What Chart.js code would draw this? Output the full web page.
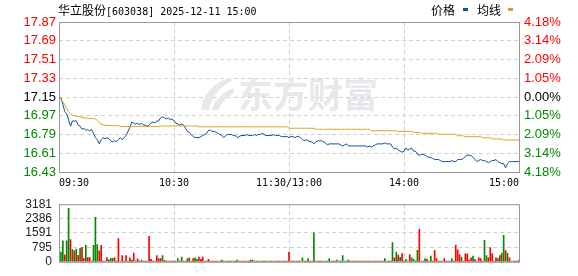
<!DOCTYPE html>
<html>
<head>
<meta charset="utf-8">
<script src="https://cdn.jsdelivr.net/npm/chart.js@4/dist/chart.umd.min.js"></script>
<style>
  html, body { margin: 0; padding: 0; background: #fff; }
  #wrap { position: relative; width: 578px; height: 276px; overflow: hidden; background: #fff; }
  canvas { position: absolute; left: 0; }
  #title { position: absolute; left: 58px; top: 1px; line-height: 14px; white-space: nowrap; color: #000; }
  #title .cn { font: 12px 'Noto Sans CJK SC'; }
  #title .en { font: 10px 'DejaVu Sans Mono'; }
  #legend { position: absolute; top: 1px; left: 0; line-height: 14px; font: 12px 'Noto Sans CJK SC'; color: #000; }
  #legend span { position: absolute; white-space: nowrap; }
  #legend i { position: absolute; display: block; width: 5px; height: 3px; }
</style>
</head>
<body>
<div id="wrap">
  <canvas id="priceCanvas" width="578" height="190" style="top:0;width:578px;height:190px"></canvas>
  <canvas id="volCanvas" width="578" height="86" style="top:190px;width:578px;height:86px"></canvas>
  <div id="title"><span class="cn">华立股份</span><span class="en">[603038] 2025-12-11 15:00</span></div>
  <div id="legend">
    <span style="left:431px">价格</span><i style="left:463px;top:7px;background:#0d56b0"></i>
    <span style="left:477px">均线</span><i style="left:508px;top:7px;background:#dca11e"></i>
  </div>
</div>
<script>
// ── axis ticks & labels ─────────────────────────────
const timeTicks  = [0, 60, 120, 180, 240];
const timeLabels = ['09:30', '10:30', '11:30/13:00', '14:00', '15:00'];
const priceTicks = [16.43, 16.61, 16.79, 16.97, 17.15, 17.33, 17.51, 17.69, 17.87];
const pctLabels  = ['4.18%', '3.14%', '2.09%', '1.05%', '0.00%', '1.05%', '2.09%', '3.14%', '4.18%'];
const volTicks   = [0, 795, 1591, 2386, 3181];
const prevClose  = 17.15;

// ── minute data, 09:30 .. 15:00 (241 points) ────────
const price = [
  17.16, 17.14, 17.08, 17.01, 16.99, 16.93, 16.87, 16.92, 16.92, 16.92,
  16.88, 16.87, 16.84, 16.85, 16.83, 16.84, 16.82, 16.84, 16.80, 16.76,
  16.74, 16.70, 16.74, 16.76, 16.75, 16.76, 16.75, 16.73, 16.72, 16.73,
  16.72, 16.74, 16.76, 16.74, 16.76, 16.78, 16.82, 16.86, 16.91, 16.90,
  16.89, 16.90, 16.88, 16.90, 16.88, 16.88, 16.87, 16.88, 16.90, 16.91,
  16.90, 16.92, 16.92, 16.95, 16.96, 16.95, 16.94, 16.95, 16.93, 16.94,
  16.92, 16.90, 16.89, 16.88, 16.89, 16.88, 16.85, 16.82, 16.81, 16.79,
  16.77, 16.76, 16.76, 16.76, 16.77, 16.78, 16.79, 16.80, 16.83, 16.83,
  16.82, 16.82, 16.81, 16.80, 16.79, 16.78, 16.76, 16.78, 16.79, 16.79,
  16.79, 16.78, 16.78, 16.76, 16.77, 16.78, 16.78, 16.78, 16.79, 16.78,
  16.78, 16.78, 16.79, 16.78, 16.79, 16.79, 16.80, 16.79, 16.78, 16.78,
  16.78, 16.78, 16.79, 16.78, 16.78, 16.78, 16.77, 16.77, 16.77, 16.77,
  16.76, 16.77, 16.77, 16.76, 16.77, 16.77, 16.76, 16.74, 16.73, 16.74,
  16.73, 16.72, 16.72, 16.70, 16.72, 16.73, 16.73, 16.73, 16.72, 16.71,
  16.69, 16.70, 16.70, 16.70, 16.70, 16.70, 16.70, 16.69, 16.68, 16.69,
  16.70, 16.68, 16.68, 16.68, 16.68, 16.68, 16.68, 16.68, 16.68, 16.68,
  16.68, 16.67, 16.68, 16.67, 16.68, 16.69, 16.70, 16.70, 16.70, 16.70,
  16.71, 16.70, 16.70, 16.70, 16.67, 16.65, 16.66, 16.64, 16.63, 16.62,
  16.63, 16.66, 16.64, 16.65, 16.66, 16.63, 16.63, 16.60, 16.59, 16.60,
  16.60, 16.59, 16.58, 16.57, 16.57, 16.56, 16.55, 16.55, 16.55, 16.54,
  16.53, 16.53, 16.53, 16.53, 16.53, 16.54, 16.53, 16.53, 16.55, 16.55,
  16.55, 16.56, 16.58, 16.59, 16.59, 16.59, 16.57, 16.55, 16.53, 16.54,
  16.55, 16.54, 16.54, 16.53, 16.52, 16.53, 16.54, 16.54, 16.55, 16.53,
  16.52, 16.51, 16.51, 16.47, 16.51, 16.53, 16.53, 16.53, 16.53, 16.53,
  16.53
];

const avgPrice = [
  17.160, 17.130, 17.105, 17.075, 17.040, 17.010, 16.985, 16.975, 16.970, 16.965,
  16.962, 16.958, 16.955, 16.951, 16.948, 16.946, 16.944, 16.943, 16.942, 16.940,
  16.925, 16.905, 16.890, 16.885, 16.880, 16.876, 16.876, 16.876, 16.876, 16.876,
  16.876, 16.876, 16.866, 16.866, 16.866, 16.866, 16.866, 16.866, 16.866, 16.866,
  16.866, 16.866, 16.866, 16.866, 16.866, 16.866, 16.866, 16.866, 16.866, 16.866,
  16.866, 16.866, 16.866, 16.872, 16.872, 16.872, 16.872, 16.872, 16.872, 16.872,
  16.872, 16.872, 16.872, 16.872, 16.872, 16.872, 16.872, 16.872, 16.872, 16.872,
  16.872, 16.872, 16.872, 16.864, 16.864, 16.864, 16.864, 16.864, 16.864, 16.864,
  16.864, 16.864, 16.864, 16.864, 16.864, 16.864, 16.864, 16.864, 16.864, 16.864,
  16.864, 16.864, 16.864, 16.864, 16.864, 16.864, 16.864, 16.864, 16.864, 16.864,
  16.864, 16.864, 16.864, 16.864, 16.864, 16.864, 16.864, 16.864, 16.864, 16.864,
  16.864, 16.864, 16.864, 16.864, 16.864, 16.864, 16.864, 16.864, 16.864, 16.864,
  16.850, 16.850, 16.850, 16.850, 16.850, 16.850, 16.850, 16.850, 16.850, 16.850,
  16.850, 16.850, 16.850, 16.850, 16.840, 16.840, 16.840, 16.840, 16.840, 16.840,
  16.840, 16.840, 16.840, 16.840, 16.840, 16.840, 16.840, 16.840, 16.840, 16.840,
  16.840, 16.840, 16.840, 16.840, 16.840, 16.840, 16.840, 16.840, 16.840, 16.840,
  16.840, 16.840, 16.840, 16.826, 16.826, 16.826, 16.826, 16.826, 16.826, 16.826,
  16.826, 16.826, 16.826, 16.826, 16.826, 16.826, 16.826, 16.820, 16.820, 16.820,
  16.820, 16.820, 16.820, 16.820, 16.820, 16.811, 16.811, 16.811, 16.811, 16.802,
  16.802, 16.802, 16.802, 16.802, 16.802, 16.802, 16.802, 16.802, 16.792, 16.792,
  16.792, 16.792, 16.792, 16.792, 16.792, 16.792, 16.792, 16.792, 16.778, 16.778,
  16.778, 16.778, 16.769, 16.769, 16.769, 16.769, 16.769, 16.769, 16.769, 16.769,
  16.769, 16.759, 16.759, 16.759, 16.759, 16.759, 16.747, 16.747, 16.747, 16.747,
  16.747, 16.747, 16.737, 16.737, 16.737, 16.737, 16.737, 16.737, 16.737, 16.737,
  16.737
];

const volume = [
  1944,  532, 1153,  389, 1153, 2950, 1223,  678,  605,  706,
   360,  750,  792,  173,  907,  230,  230,   40,  907, 2462,
   950,  605,  907,   40,   40,  230,  115,  187,  187,  230,
    40, 1280,   40,  350,   40,  350,   40,  220,  100,  480,
    40,  170,   40,   90,   40,   40,   40, 1400,  130,   40,
    40,  350,  175,  180,  345,   80,   40,   40,   40,   40,
    40,   40,  176,   40,  265,   40,   40,  176,  220,   40,
   176,  220,  130,  265,  130,  265,   40,   40,  130,   40,
    40,   40,   40,   40,   40,   90,   40,   40,   40,   40,
    40,   40,   40,   90,   40,   40,   40,   40,   40,   40,
    90,   90,   40,   40,   40,   40,   40,   40,   40,   40,
    40,   40,   40,   40,   40,   40,   40,   40,   40,   40,
   540,   40,   40,   40,   40,   40,   40,  220,   40,   40,
   176,   40,   40, 1600,   40,   40,   40,   40,   40,   40,
    40,  176,   40,   40,   40,   90,   40,   40,  350,   40,
    40,   90,   40,   40,   40,   40,   40,   40,   40,   40,
    40,   40,   40,   40,   40,   40,   40,   40,   40,   40,
   176,   40,   40,   40, 1060,  220,  530,  370,  250,  450,
    40,  130,   40,  400,  220,  130,   60,  640, 1790,   40,
    40,  176,  130,   40,  310,   40,  640,  176,   40,   40,
    40,  176,   40,   40,   40,  176,   40,  925,  660,  400,
   265,   40,  440,  440,   90,  220,  310,  130,   40,  220,
   176,   40, 1190,  350,  220,  790,  440,   40,  220,  176,
   350,  485, 1455,  617,  485,  220,   40,   40,   40,   40,
   100
];

// 1 = up minute (red), 0 = down minute (green)
const volUp = [
  1,0,0,1,0,0,1,0,1,0,
  1,0,1,1,0,1,1,0,0,0,
  0,1,1,0,0,1,0,0,0,1,
  0,1,0,1,0,1,0,1,0,1,
  0,1,0,0,1,0,1,1,1,0,
  0,1,1,1,0,1,0,0,1,0,
  1,0,0,1,0,1,0,1,0,1,
  1,0,0,1,1,1,0,1,1,0,
  1,0,0,1,0,0,1,1,0,1,
  0,1,0,0,1,1,1,0,1,0,
  1,0,0,1,0,0,1,0,1,0,
  1,0,1,1,0,1,1,0,1,0,
  1,0,1,0,1,0,1,0,0,1,
  0,1,1,0,1,1,0,1,0,0,
  1,0,1,1,1,0,1,0,0,1,
  0,0,1,1,1,0,1,1,0,1,
  1,0,1,0,1,1,0,1,0,1,
  0,1,0,1,0,1,0,1,0,1,
  0,0,1,1,0,0,0,0,1,0,
  1,0,1,0,0,1,1,1,0,1,
  0,1,0,1,0,0,1,1,1,1,
  0,1,1,1,1,1,0,0,1,1,
  1,0,0,0,1,1,1,0,1,0,
  1,0,0,1,0,1,0,1,0,1,
  1
];

// ── colours ─────────────────────────────────────────
const RED   = '#ff0000';
const GREEN = '#008a00';
const BLUE  = '#0b4f9f';
const GOLD  = '#dca11e';
const GRID  = '#d0d0d0';
const FRAME = '#999999';

const priceColor = v => v > prevClose + 0.001 ? RED : (v < prevClose - 0.001 ? GREEN : '#000');
const hideEdges  = ctx => (ctx.tick && (ctx.tick.value === 0 || ctx.tick.value === 240)) ? 'rgba(0,0,0,0)' : GRID;

// grey frame round the plot area
const frame = {
  id: 'frame',
  afterDraw(chart) {
    const { ctx, chartArea: a } = chart;
    ctx.save();
    ctx.strokeStyle = FRAME;
    ctx.lineWidth = 1;
    ctx.strokeRect(a.left + 0.5, a.top + 0.5, a.right - a.left, a.bottom - a.top);
    ctx.restore();
  }
};

// faint brand watermark behind the lines
const watermark = {
  id: 'watermark',
  beforeDatasetsDraw(chart) {
    const ctx = chart.ctx;
    ctx.save();
    ctx.fillStyle = '#e7e8ec';
    ctx.beginPath();
    ctx.moveTo(201, 110); ctx.quadraticCurveTo(203, 88, 228, 78);
    ctx.lineTo(233, 80); ctx.quadraticCurveTo(211, 92, 209, 110); ctx.closePath();
    ctx.fill();
    ctx.beginPath();
    ctx.moveTo(212, 110); ctx.quadraticCurveTo(215, 96, 233, 88);
    ctx.lineTo(234, 93); ctx.quadraticCurveTo(222, 99, 219, 110); ctx.closePath();
    ctx.fill();
    ctx.font = 'bold 35px "Noto Sans CJK SC"';
    ctx.textBaseline = 'middle';
    ctx.fillText('东方财富', 238, 95);
    ctx.restore();
  }
};

const xScale = (showLabels, height) => ({
  type: 'linear',
  min: 0, max: 240,
  offset: false,
  afterBuildTicks: s => { s.ticks = timeTicks.map(v => ({ value: v })); },
  afterFit: s => { s.height = height; },
  ticks: {
    display: showLabels,
    autoSkip: false, maxRotation: 0, align: 'inner', padding: 5,
    color: '#000',
    font: { family: 'DejaVu Sans Mono', size: 10 },
    callback: (v, i) => timeLabels[i]
  },
  grid: { color: hideEdges, drawTicks: false, lineWidth: 1, offset: false },
  border: { display: false, dash: [4, 3] }
});

new Chart(document.getElementById('priceCanvas'), {
  type: 'line',
  data: {
    datasets: [
      { label: '均线', data: avgPrice.map((v, i) => ({ x: i, y: v })), borderColor: GOLD, borderWidth: 1, pointRadius: 0, tension: 0 },
      { label: '价格', data: price.map((v, i) => ({ x: i, y: v })), borderColor: BLUE, borderWidth: 1, pointRadius: 0, tension: 0 }
    ]
  },
  options: {
    responsive: false,
    animation: false,
    events: [],
    layout: { padding: { top: 22, left: 0, right: 0, bottom: 0 } },
    plugins: { legend: { display: false }, tooltip: { enabled: false } },
    scales: {
      x: xScale(true, 18),
      y: {
        position: 'left',
        min: 16.43, max: 17.87,
        afterBuildTicks: s => { s.ticks = priceTicks.map(v => ({ value: v })); },
        afterFit: s => { s.width = 59; },
        ticks: {
          autoSkip: false,
          padding: 3,
          font: { family: 'Liberation Sans', size: 13 },
          color: ctx => priceColor(ctx.tick.value),
          callback: v => v.toFixed(2)
        },
        grid: { color: GRID, drawTicks: false },
        border: { display: false, dash: [4, 3] }
      },
      pct: {
        position: 'right',
        min: 16.43, max: 17.87,
        afterBuildTicks: s => { s.ticks = priceTicks.map(v => ({ value: v })); },
        afterFit: s => { s.width = 59; },
        ticks: {
          autoSkip: false,
          padding: 5,
          font: { family: 'Liberation Sans', size: 13 },
          color: ctx => priceColor(ctx.tick.value),
          callback: (v, i) => pctLabels[i]
        },
        grid: { display: false, drawTicks: false },
        border: { display: false }
      }
    }
  },
  plugins: [watermark, frame]
});

new Chart(document.getElementById('volCanvas'), {
  type: 'bar',
  data: {
    datasets: [{
      label: '成交量',
      data: volume.map((v, i) => ({ x: i, y: v })),
      backgroundColor: volUp.map(u => u ? RED : GREEN),
      borderWidth: 0,
      barThickness: 1,
      grouped: false
    }]
  },
  options: {
    responsive: false,
    animation: false,
    events: [],
    layout: { padding: { top: 6, left: 0, right: 59, bottom: 6 } },
    plugins: { legend: { display: false }, tooltip: { enabled: false } },
    scales: {
      x: xScale(false, 0),
      y: {
        position: 'left',
        min: 0, max: 3181,
        afterBuildTicks: s => { s.ticks = volTicks.map(v => ({ value: v })); },
        afterFit: s => { s.width = 59; },
        ticks: {
          autoSkip: false,
          padding: 7,
          font: { family: 'Liberation Sans', size: 12 },
          color: '#222',
          callback: v => String(v)
        },
        grid: { color: GRID, drawTicks: false },
        border: { display: false, dash: [4, 3] }
      }
    }
  },
  plugins: [frame]
});
</script>
</body>
</html>
